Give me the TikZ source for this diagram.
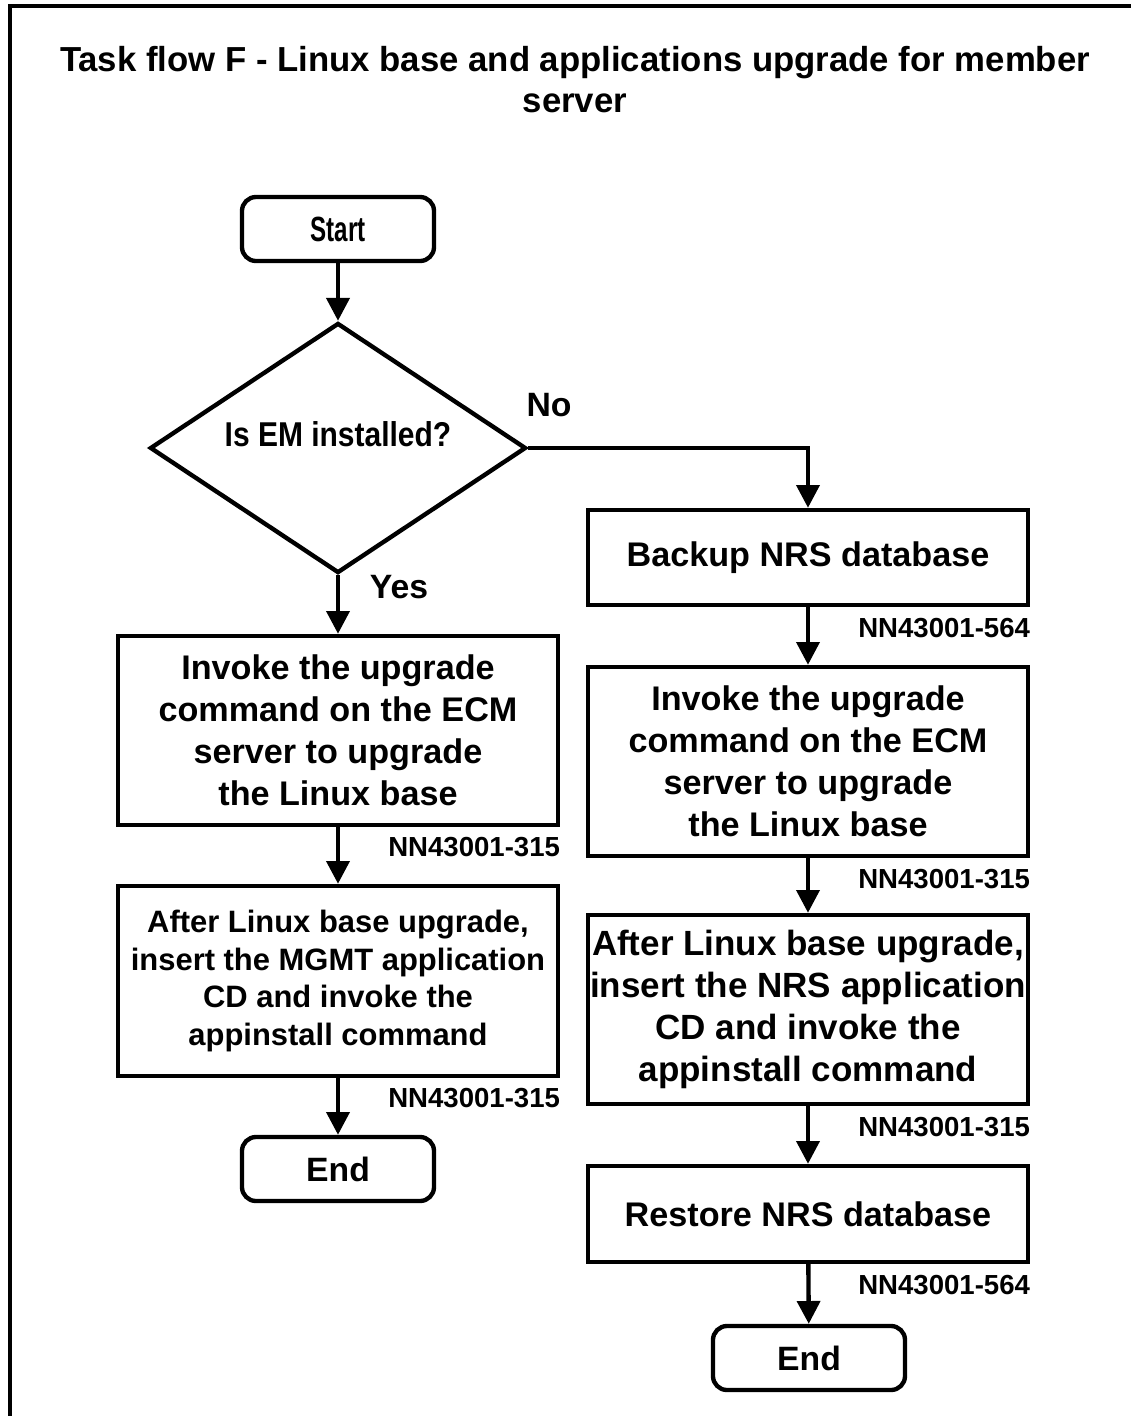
\documentclass[tikz,border=0pt]{standalone}
\usepackage{fontspec}
\setmainfont{Liberation Sans}
\newfontfamily\startfont[FakeStretch=0.69]{Liberation Sans}
\newfontfamily\askfont[FakeStretch=0.87]{Liberation Sans}
\usetikzlibrary{shapes.geometric,arrows.meta}

\tikzset{
  flow/.style={line width=3.1pt, -{Triangle[length=0.57cm,width=0.57cm]}},
  term/.style={draw, line width=3.1pt, rounded corners=0.35cm, minimum width=4.8cm,
    minimum height=1.6cm, inner sep=0pt, font=\bfseries\fontsize{24}{26}\selectfont},
  task/.style={draw, line width=3.1pt, minimum width=11cm, inner sep=0pt, align=center,
    font=\bfseries\fontsize{24.3}{29.9}\selectfont},
  ask/.style={draw, diamond, line width=3.1pt, minimum width=9.4cm, minimum height=6.25cm,
    inner sep=0pt, font=\askfont\bfseries\fontsize{24.5}{26}\selectfont},
  docref/.style={inner sep=0pt, anchor=north east, font=\bfseries\fontsize{19.6}{21}\selectfont},
  branch/.style={inner sep=0pt, font=\bfseries\fontsize{24}{26}\selectfont},
}

\begin{document}
\begin{tikzpicture}[x=0.025cm, y=-0.025cm]
       \useasboundingbox (0,0) rectangle (1131,1416);
       % 外框
       \draw [line width=3pt] (10,1416) -- (10,6) -- (1131,6);
       % 标题
       \node [align=center, font=\bfseries\fontsize{24.7}{29.2}\selectfont] (title) at (575,80)
         {Task flow F - Linux base and applications upgrade for member\\server};

       % 开始与判断
       \node [term, font=\startfont\bfseries\fontsize{24.9}{26}\selectfont] (start) at (338,229) {Start};
       \node [ask] (ask) at (338,448) {\raisebox{0.05cm}[0pt][0pt]{Is EM installed?}};
       \node [branch] (nolbl) at (549,405) {No};
       \node [branch] (yeslbl) at (399,587) {Yes};

       % 左列
       \node [task, minimum height=4.725cm] (l1) at (338,730.5)
         {Invoke the upgrade\\command on the ECM\\server to upgrade\\the Linux base};
       \node [task, minimum height=4.75cm, font=\bfseries\fontsize{22}{26.7}\selectfont] (l2) at (338,981)
         {After Linux base upgrade,\\insert the MGMT application\\CD and invoke the\\appinstall command};
       \node [term] (lend) at (338,1169) {End};

       % 右列
       \node [task, minimum height=2.375cm] (r1) at (808,557.5) {Backup NRS database};
       \node [task, minimum height=4.725cm] (r2) at (808,761.5)
         {Invoke the upgrade\\command on the ECM\\server to upgrade\\the Linux base};
       \node [task, minimum height=4.725cm, font=\bfseries\fontsize{24.9}{29.9}\selectfont] (r3) at (808,1009.5)
         {After Linux base upgrade,\\insert the NRS application\\CD and invoke the\\appinstall command};
       \node [task, minimum height=2.4cm] (r4) at (808,1214) {Restore NRS database};
       \node [term] (rend) at (809,1358) {End};

       % 文档编号
       \node [docref] (l1ref) at ([yshift=-0.24cm]l1.south east) {NN43001-315};
       \node [docref] (l2ref) at ([yshift=-0.24cm]l2.south east) {NN43001-315};
       \node [docref] (r1ref) at ([yshift=-0.26cm]r1.south east) {NN43001-564};
       \node [docref] (r2ref) at ([yshift=-0.26cm]r2.south east) {NN43001-315};
       \node [docref] (r3ref) at ([yshift=-0.26cm]r3.south east) {NN43001-315};
       \node [docref] (r4ref) at ([yshift=-0.26cm]r4.south east) {NN43001-564};

       % 箭头
       \draw [flow] (start) -- (ask);
       \draw [flow] (ask) -- (l1);
       \draw [flow] (l1) -- (l2);
       \draw [flow] (l2) -- (lend);
       \draw [flow] (ask.east) -| (r1);
       \draw [flow] (r1) -- (r2);
       \draw [flow] (r2) -- (r3);
       \draw [flow] (r3) -- (r4);
       \draw [flow] (r4) -- (rend);
     \end{tikzpicture}
\end{document}
